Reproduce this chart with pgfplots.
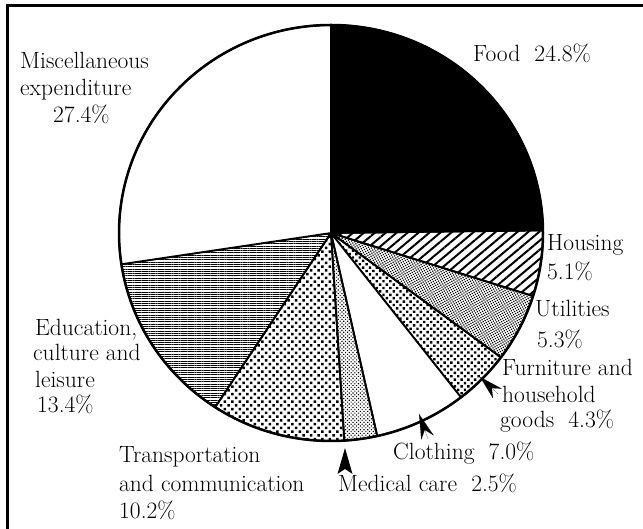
\documentclass[border=0pt]{standalone}
\usepackage{fontspec}
\usepackage{pgfplots}
\pgfplotsset{compat=1.18}
\usetikzlibrary{patterns.meta,arrows.meta}

\tikzset{lab/.style={font=\fontsize{23.5}{27}\selectfont, inner sep=0pt, anchor=base west}}

% #1 = cumulative share before the slice (%), #2 = share of the slice (%), #3 = style
\newcommand\slice[3]{%
  \filldraw[line width=1.8pt, line join=round, #3]
    (axis cs:331,296) --
    (axis cs:{331+212*cos(90-3.6*(#1))},{296+208*sin(90-3.6*(#1))})
    arc[start angle={90-3.6*(#1)}, end angle={90-3.6*((#1)+(#2))}, x radius=212pt, y radius=208pt]
    -- cycle;}

\begin{document}
\begin{tikzpicture}
\begin{axis}[x=1pt, y=1pt, xmin=0, xmax=643, ymin=0, ymax=529,
  hide axis, clip=false]
% shares, clockwise from 12 o'clock
\slice{0}{24.8}{fill=black}                                             % Food
\slice{24.8}{5.1}{pattern={Lines[angle=40,distance=7pt,line width=2pt]}} % Housing
\slice{29.9}{5.3}{pattern={Dots[distance=2.3pt,radius=0.85pt,angle=30]}} % Utilities
\slice{35.2}{4.3}{pattern={Dots[distance=4.8pt,radius=1.7pt,angle=45]}}  % Furniture
\slice{39.5}{7.0}{fill=white}                                            % Clothing
\slice{46.5}{2.5}{pattern={Dots[distance=2.6pt,radius=0.8pt,angle=45]}}  % Medical care
\slice{49.0}{10.2}{pattern={Dots[distance=5.3pt,radius=1.8pt,angle=45]}} % Transportation
\slice{59.2}{13.4}{pattern={Lines[angle=0,distance=2.3pt,line width=1.0pt]}} % Education
\slice{72.6}{27.4}{fill=white}                                           % Misc
\draw[line width=2.5pt] (axis cs:331,296) ellipse[x radius=212pt, y radius=208pt];

% frame
\draw[line width=3pt] (axis cs:7,0) -- (axis cs:7,523) -- (axis cs:643,523);

% pointers
\fill (axis cs:345,81) -- (axis cs:337.5,55) -- (axis cs:345,60) -- (axis cs:352.5,55) -- cycle;
\draw[line width=0.1pt, -{Stealth[length=25pt,width=13pt]}] (axis cs:428,90) -- (axis cs:419,115);
\draw[line width=0.1pt, -{Stealth[length=24pt,width=13pt]}] (axis cs:498,135) -- (axis cs:480,152);

% labels
\node[lab] at (axis cs:473,467) {Food~ 24.8\%};
\node[lab] at (axis cs:20,460) {Miscellaneous};
\node[lab] at (axis cs:20,433) {expenditure};
\node[lab] at (axis cs:53,406) {27.4\%};
\node[lab] at (axis cs:547,278) {Housing};
\node[lab] at (axis cs:547,249) {5.1\%};
\node[lab] at (axis cs:535,212) {Utilities};
\node[lab] at (axis cs:537,181) {5.3\%};
\node[lab] at (axis cs:502,153) {Furniture and};
\node[lab] at (axis cs:502,126) {household};
\node[lab] at (axis cs:500,101) {goods~ 4.3\%};
\node[lab] at (axis cs:393,69) {Clothing~ 7.0\%};
\node[lab] at (axis cs:338,37) {Medical care~ 2.5\%};
\node[lab] at (axis cs:119,66) {Transportation};
\node[lab] at (axis cs:119,37) {and communication};
\node[lab] at (axis cs:119,10) {10.2\%};
\node[lab] at (axis cs:35,193) {Education,};
\node[lab] at (axis cs:33,168) {culture and};
\node[lab] at (axis cs:35,141) {leisure};
\node[lab] at (axis cs:37,116) {13.4\%};
\end{axis}
\pgfresetboundingbox
\path (0,0) rectangle (643pt,529pt);
\end{tikzpicture}
\end{document}
